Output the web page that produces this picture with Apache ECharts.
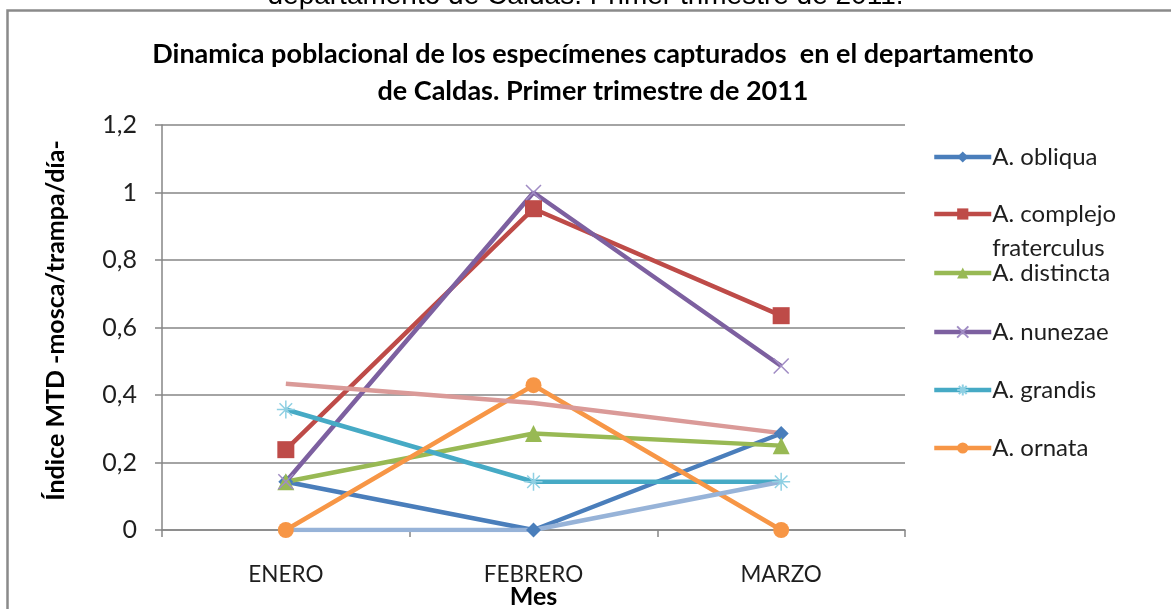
<!DOCTYPE html>
<html>
<head>
<meta charset="utf-8">
<script src="https://cdn.jsdelivr.net/npm/echarts@6/dist/echarts.min.js"></script>
<style>
html,body{margin:0;padding:0;background:#fff;}
#chart{width:1171px;height:609px;}
</style>
</head>
<body>
<div id="chart"></div>
<script>
// ---- data ----
const categories = ['ENERO', 'FEBRERO', 'MARZO'];
const obliqua   = [0.143, 0.0, 0.286];
const complejo  = [0.238, 0.952, 0.635];
const distincta = [0.143, 0.286, 0.25];
const nunezae   = [0.143, 1.0, 0.486];
const grandis   = [0.357, 0.143, 0.143];
const ornata    = [0.0, 0.429, 0.0];
const serie7    = [0.433, 0.376, 0.287];
const serie8    = [0.0, 0.0, 0.143];
const yTicks    = [0, 0.2, 0.4, 0.6, 0.8, 1.0, 1.2];
const legendNames = ['A. obliqua', 'A. complejo fraterculus', 'A. distincta', 'A. nunezae', 'A. grandis', 'A. ornata'];
const titleText = 'Dinamica poblacional de los especímenes capturados  en el departamento\nde Caldas. Primer trimestre de 2011';
const captionText = 'departamento de Caldas. Primer trimestre de 2011.';

const FONT = 'Lato';
const X_PATH = 'path://M0,0L10,10M10,0L0,10';
const STAR_PATH = 'path://M5,0L5,10M0,5L10,5M1.5,1.5L8.5,8.5M8.5,1.5L1.5,8.5';

function lineSeries(name, data, color, symbol, size, markerColor, stroke) {
  return {
    name: name, type: 'line', data: data,
    symbol: symbol, symbolSize: size,
    lineStyle: { color: color, width: 4.5 },
    itemStyle: stroke
      ? { color: markerColor, borderColor: markerColor, borderWidth: 1.5 }
      : { color: markerColor, borderWidth: 0 },
    emphasis: { disabled: true },
    animation: false
  };
}

const series = [
  lineSeries(legendNames[0], obliqua,   '#4A7EBB', 'diamond', 15, '#4A7EBB', false),
  lineSeries(legendNames[1], complejo,  '#BE4B48', 'rect', 17, '#BE4B48', false),
  lineSeries(legendNames[2], distincta, '#98B954', 'triangle', 17, '#98B954', false),
  lineSeries(legendNames[3], nunezae,   '#7D60A0', X_PATH, 15, '#A08CC4', true),
  lineSeries(legendNames[4], grandis,   '#46AAC5', STAR_PATH, 18, '#8FD0E3', true),
  lineSeries(legendNames[5], ornata,    '#F79646', 'circle', 16, '#F79646', false),
  { name: 'Serie7', type: 'line', data: serie7, symbol: 'none', lineStyle: { color: '#DA9A98', width: 4.5 }, itemStyle: { color: '#DA9A98' }, emphasis: { disabled: true }, animation: false },
  { name: 'Serie8', type: 'line', data: serie8, symbol: 'none', lineStyle: { color: '#97B3D8', width: 4.5 }, itemStyle: { color: '#97B3D8' }, emphasis: { disabled: true }, animation: false }
];

const legendCenters = [152, 209, 268, 327, 385, 443];
const legends = legendNames.map(function (n, i) {
  const twoLine = n === 'A. complejo fraterculus';
  return {
    data: [n], orient: 'vertical', left: 927,
    top: twoLine ? legendCenters[i] - 51 : legendCenters[i] - 14,
    itemWidth: 57, itemHeight: 14, itemGap: 0,
    selectedMode: false,
    lineStyle: { width: 4.5 },
    formatter: function (name) { return name === 'A. complejo fraterculus' ? '\nA. complejo\nfraterculus' : name; },
    textStyle: { fontFamily: FONT, fontSize: 24, color: '#1e1e1e', lineHeight: twoLine ? 34 : 28, padding: [0, 0, 0, -4] }
  };
});

const chart = echarts.init(document.getElementById('chart'), null, { renderer: 'canvas' });
chart.setOption({
  backgroundColor: '#fff',
  animation: false,
  title: {
    text: titleText, left: 588, textAlign: 'center', top: 31,
    textStyle: { fontFamily: FONT, fontSize: 27, fontWeight: 'bold', color: '#000', lineHeight: 37 }
  },
  legend: legends,
  grid: { left: 162, right: 266, top: 125, bottom: 79, containLabel: false, outerBoundsMode: 'none' },
  xAxis: {
    type: 'category', data: categories, boundaryGap: true,
    name: 'Mes', nameLocation: 'middle', nameGap: 54, nameMoveOverlap: false,
    nameTextStyle: { fontFamily: FONT, fontSize: 25, fontWeight: 'bold', color: '#000' },
    axisLine: { show: true, lineStyle: { color: '#868686', width: 1.5 } },
    axisTick: { show: true, length: 7, lineStyle: { color: '#868686', width: 1.5 } },
    axisLabel: { margin: 33, fontFamily: FONT, fontSize: 22.5, color: '#1e1e1e' },
    splitLine: { show: false }
  },
  yAxis: {
    type: 'value', min: 0, max: 1.2, interval: 0.2,
    name: 'Índice MTD -mosca/trampa/día-', nameLocation: 'middle', nameGap: 94, nameMoveOverlap: false,
    nameTextStyle: { fontFamily: FONT, fontSize: 25, fontWeight: 'bold', color: '#000', padding: [0, 0, 0, 14] },
    axisLine: { show: true, lineStyle: { color: '#868686', width: 1.5 } },
    axisTick: { show: true, length: 7, lineStyle: { color: '#868686', width: 1.5 } },
    axisLabel: {
      margin: 25, fontFamily: FONT, fontSize: 25, color: '#1e1e1e',
      formatter: function (v) {
        const t = yTicks.find(function (k) { return Math.abs(k - v) < 1e-6; });
        return String(Math.round((t === undefined ? v : t) * 10) / 10).replace('.', ',');
      }
    },
    splitLine: { show: true, lineStyle: { color: '#868686', width: 1.5 } }
  },
  graphic: [
    { type: 'text', left: 'center', top: -18, z: 1,
      style: { text: captionText, font: '28px "Liberation Sans", Arial, sans-serif', fill: '#000' } },
    { type: 'rect', z: 2, silent: true,
      shape: { x: 7.5, y: 10.5, width: 1200, height: 700 },
      style: { fill: 'none', stroke: '#8a8a8a', lineWidth: 2.5 } }
  ],
  series: series
});
</script>
</body>
</html>
